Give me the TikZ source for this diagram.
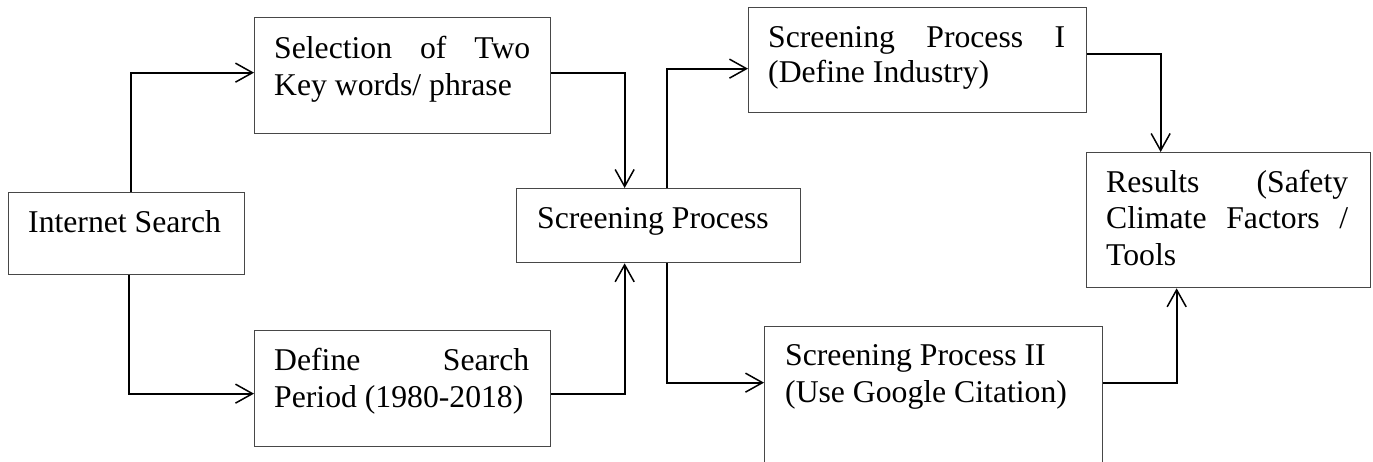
\documentclass[tikz,border=0pt]{standalone}
\usepackage{fontspec}
\setmainfont{Liberation Serif}
\usetikzlibrary{arrows.meta}
\begin{document}
\begin{tikzpicture}[x=1pt,y=-1pt,
  box/.style={draw=black!72,line width=1.3pt,inner sep=0pt,anchor=north west,rectangle},
  txt/.style={inner sep=0pt,anchor=base west,font=\fontsize{31.7}{37}\selectfont},
  arr/.style={line width=1.8pt,-{Straight Barb[length=17pt,width=19pt,line width=1.5pt]}}]
\useasboundingbox (0,0) rectangle (1373,461);
\clip (0,0) rectangle (1373,461);
% boxes
\node[box,minimum width=236pt,minimum height=82pt] (is) at (8,192) {};
\node[box,minimum width=296pt,minimum height=116pt] (sel) at (254,17) {};
\node[box,minimum width=296pt,minimum height=116pt] (def) at (254,330) {};
\node[box,minimum width=284pt,minimum height=74pt] (sp) at (516,188) {};
\node[box,minimum width=338pt,minimum height=105pt] (s1) at (748,7) {};
\node[box,minimum width=338pt,minimum height=150pt] (s2) at (764,326) {};
\node[box,minimum width=284pt,minimum height=135pt] (res) at (1086,152) {};
% texts
\node[txt] (tis) at (28,232) {Internet Search};
\node[txt] (tsel1) at (274,58) {\makebox[256pt][s]{Selection of Two}};
\node[txt] (tsel2) at (274,95) {Key words/ phrase};
\node[txt] (tdef1) at (274,370) {\makebox[255pt][s]{Define Search}};
\node[txt] (tdef2) at (274,407) {Period (1980-2018)};
\node[txt] (tsp) at (537,228) {Screening Process};
\node[txt] (ts11) at (768,47) {\makebox[297pt][s]{Screening Process I}};
\node[txt] (ts12) at (768,82) {(Define Industry)};
\node[txt] (ts21) at (785,365) {Screening Process II};
\node[txt] (ts22) at (785,402) {(Use Google Citation)};
\node[txt] (tres1) at (1106,192) {\makebox[242pt][s]{Results (Safety}};
\node[txt] (tres2) at (1106,228) {\makebox[242pt][s]{Climate Factors /}};
\node[txt] (tres3) at (1106,265) {Tools};
% connectors
\draw[arr] ([xshift=4pt]is.north) |- ([yshift=3pt]sel.west);
\draw[arr] ([xshift=2pt]is.south) |- ([yshift=-5pt]def.west);
\draw[arr] ([yshift=3pt]sel.east) -| ([xshift=-34pt]sp.north);
\draw[arr] ([yshift=-5pt]def.east) -| ([xshift=-34pt]sp.south);
\draw[arr] ([xshift=8pt]sp.north) |- ([yshift=-8.5pt]s1.west);
\draw[arr] ([xshift=8pt]sp.south) |- ([yshift=19pt]s2.west);
\draw[arr] ([yshift=6.5pt]s1.east) -| ([xshift=-68pt]res.north);
\draw[arr] ([yshift=19pt]s2.east) -| ([xshift=-52pt]res.south);
\end{tikzpicture}
\end{document}
